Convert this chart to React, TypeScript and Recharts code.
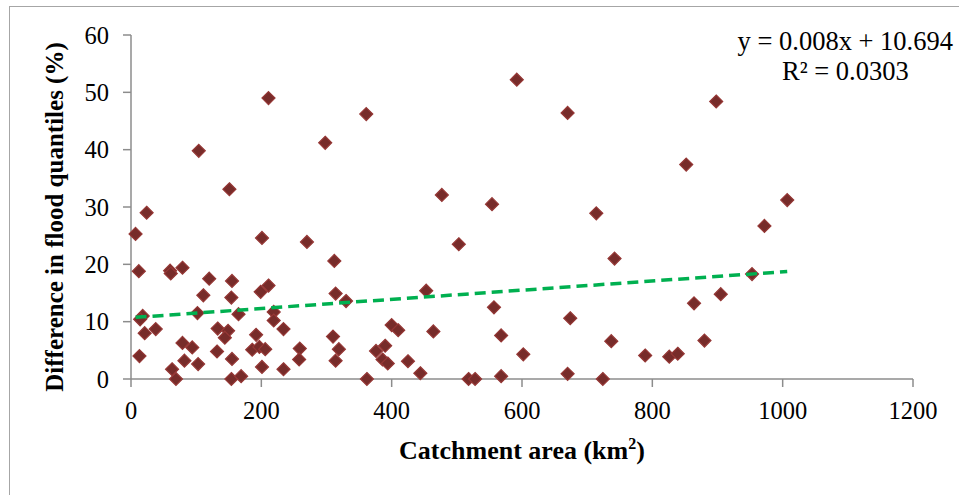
import { ScatterChart, Scatter, XAxis, YAxis } from 'recharts';

const catchmentArea = [
  211, 361, 298, 104, 151, 24, 7, 201, 270, 312, 12, 60, 61, 79, 120, 155, 211, 111, 154, 199,
  314, 330, 219, 219, 165, 102, 18, 14, 21, 38, 133, 149, 144, 192, 234, 310, 79, 94, 132, 186,
  197, 206, 259, 319, 13, 82, 103, 155, 258, 314, 201, 234, 63, 69, 154, 169, 362, 592, 670, 477,
  554, 714, 503, 453, 557, 674, 400, 410, 464, 568, 376, 390, 386, 394, 425, 602, 444, 518, 528, 568,
  670, 724, 898, 852, 1007, 972, 742, 953, 905, 864, 737, 880, 789, 826, 839,
];

const floodDifference = [
  49.0, 46.2, 41.2, 39.8, 33.1, 29.0, 25.3, 24.6, 23.9, 20.6, 18.8, 18.9, 18.4, 19.4, 17.5, 17.1, 16.3, 14.6, 14.2, 15.2,
  14.9, 13.6, 11.7, 10.2, 11.3, 11.5, 11.0, 10.4, 8.0, 8.7, 8.8, 8.4, 7.2, 7.7, 8.7, 7.4, 6.3, 5.5, 4.8, 5.1,
  5.6, 5.2, 5.3, 5.2, 4.0, 3.2, 2.6, 3.5, 3.4, 3.2, 2.1, 1.7, 1.7, 0, 0, 0.5, 0, 52.2, 46.4, 32.1,
  30.5, 28.9, 23.5, 15.4, 12.5, 10.6, 9.4, 8.5, 8.3, 7.6, 4.9, 5.8, 3.4, 2.7, 3.1, 4.3, 1.0, 0, 0, 0.5,
  0.9, 0, 48.4, 37.4, 31.2, 26.7, 21.0, 18.3, 14.8, 13.2, 6.6, 6.7, 4.1, 3.9, 4.4,
];

const xTicks = [0, 200, 400, 600, 800, 1000, 1200];
const yTicks = [0, 10, 20, 30, 40, 50, 60];

// linear fit reported on the chart
const slope = 0.008;
const intercept = 10.694;

const points = catchmentArea.map((x, i) => ({ x, y: floodDifference[i] }));
const xMin = Math.min(...catchmentArea);
const xMax = Math.max(...catchmentArea);
const trend = [
  { x: xMin, y: slope * xMin + intercept },
  { x: xMax, y: slope * xMax + intercept },
];

const FONT = '"Liberation Serif", "Times New Roman", serif';
const AXIS = '#8c8c8c';

const Diamond = (props: any) => {
  const { cx, cy } = props;
  const r = 6.5;
  return (
    <polygon
      points={`${cx},${cy - r} ${cx + r},${cy} ${cx},${cy + r} ${cx - r},${cy}`}
      fill="#772C2A"
      stroke="#953735"
      strokeWidth={1.2}
    />
  );
};

export default function App() {
  return (
    <div style={{ position: 'absolute', left: 0, top: 0, width: 959, height: 495, background: '#fff', overflow: 'hidden' }}>
      <div
        style={{
          position: 'absolute', left: 9, top: 6, width: 1000, height: 600,
          borderLeft: '1px solid #a6a6a6', borderTop: '1px solid #a6a6a6',
        }}
      />
      <ScatterChart width={959} height={495} margin={{ top: 35, right: 46, bottom: 0, left: 0 }}>
        <XAxis
          type="number"
          dataKey="x"
          domain={[0, 1200]}
          ticks={xTicks}
          height={116}
          stroke={AXIS}
          strokeWidth={1.5}
          tickSize={8}
          tickMargin={15}
          tick={{ fill: '#000', fontSize: 24.5, fontFamily: FONT }}
          label={{
            content: (p: any) => {
              const vb = p.viewBox;
              return (
                <text x={vb.x + vb.width / 2} y={459} textAnchor="middle" fontFamily={FONT} fontWeight="bold" fontSize={26} fill="#000">
                  Catchment area (km<tspan fontSize={16} dy={-10}>2</tspan><tspan dy={10}>)</tspan>
                </text>
              );
            },
          }}
        />
        <YAxis
          type="number"
          dataKey="y"
          domain={[0, 60]}
          ticks={yTicks}
          width={131}
          stroke={AXIS}
          strokeWidth={1.5}
          tickSize={8}
          tickMargin={14}
          tick={{ fill: '#000', fontSize: 24.5, fontFamily: FONT }}
          label={{
            content: (p: any) => {
              const vb = p.viewBox;
              const cy = vb.y + vb.height / 2 + 10;
              return (
                <text x={54} y={cy} transform={`rotate(-90, 54, ${cy})`} textAnchor="middle" dominantBaseline="central" fontFamily={FONT} fontWeight="bold" fontSize={25} fill="#000">
                  Difference in flood quantiles (%)
                </text>
              );
            },
          }}
        />
        <Scatter data={points} shape={Diamond} isAnimationActive={false} />
        <Scatter
          data={trend}
          line={{ stroke: '#00B050', strokeWidth: 3.5, strokeDasharray: '11 6' }}
          shape={() => <g />}
          isAnimationActive={false}
        />
      </ScatterChart>
      <div style={{ position: 'absolute', right: 6, top: 26, fontFamily: FONT, fontSize: 26.5, lineHeight: '30px', textAlign: 'center', color: '#000' }}>
        <div>y = 0.008x + 10.694</div>
        <div>R² = 0.0303</div>
      </div>
    </div>
  );
}
